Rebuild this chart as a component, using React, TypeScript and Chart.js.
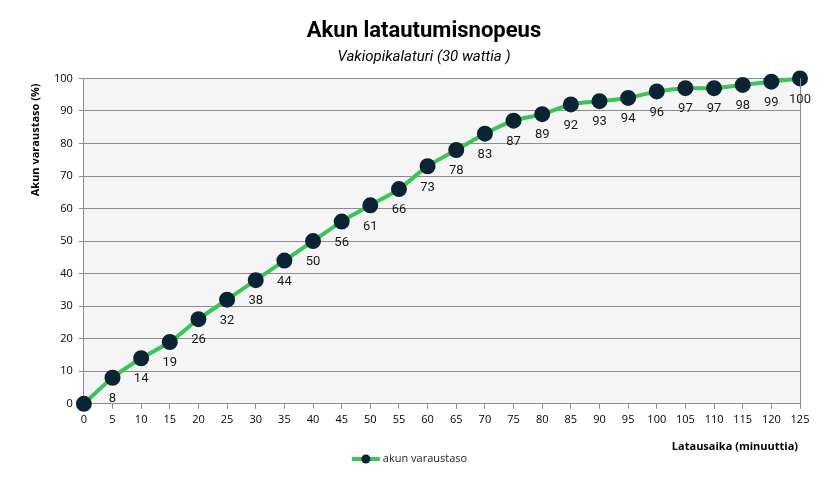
import React, { useEffect, useRef } from 'react';
import { Chart, registerables } from 'chart.js';
Chart.register(...registerables);

const minutes = [0, 5, 10, 15, 20, 25, 30, 35, 40, 45, 50, 55, 60, 65, 70, 75, 80, 85, 90, 95, 100, 105, 110, 115, 120, 125];
const charge = [0, 8, 14, 19, 26, 32, 38, 44, 50, 56, 61, 66, 73, 78, 83, 87, 89, 92, 93, 94, 96, 97, 97, 98, 99, 100];
const seriesLabel = 'akun varaustaso';
const titleText = 'Akun latautumisnopeus';
const subtitleText = 'Vakiopikalaturi (30 wattia )';
const xTitle = 'Latausaika (minuuttia)';
const yTitle = 'Akun varaustaso (%)';

const LINE = '#3cc45a';
const POINT = '#0b2433';
const GRID = '#8c8c8c';
const TICKFONT = "'Open Sans', 'DejaVu Sans', sans-serif";
const NARROW = "'Liberation Sans Narrow', 'Arial Narrow', 'Roboto', sans-serif";

const extras = {
  id: 'extras',
  beforeDraw(chart: any) {
    const { ctx, chartArea: a } = chart;
    ctx.save();
    ctx.fillStyle = '#f5f5f5';
    ctx.fillRect(a.left, a.top, a.right - a.left, a.bottom - a.top);
    ctx.restore();
  },
  afterDraw(chart: any) {
    const { ctx, chartArea: a } = chart;
    ctx.save();
    // right border
    ctx.strokeStyle = GRID;
    ctx.lineWidth = 1;
    ctx.beginPath();
    ctx.moveTo(Math.round(a.right) + 0.5, a.top);
    ctx.lineTo(Math.round(a.right) + 0.5, a.bottom);
    ctx.stroke();
    // data labels
    const meta = chart.getDatasetMeta(0);
    ctx.fillStyle = '#1a1a1a';
    ctx.font = `13px ${NARROW}`;
    ctx.textAlign = 'center';
    ctx.textBaseline = 'middle';
    meta.data.forEach((pt: any, i: number) => {
      if (charge[i] === 0) return;
      ctx.fillText(String(charge[i]), pt.x, pt.y + 21);
    });
    // axis titles
    ctx.fillStyle = '#000';
    ctx.font = `bold 11px ${TICKFONT}`;
    ctx.textAlign = 'right';
    ctx.fillText(xTitle, a.right - 2, a.bottom + 43);
    ctx.save();
    ctx.translate(36, a.top + 5);
    ctx.rotate(-Math.PI / 2);
    ctx.textAlign = 'right';
    ctx.fillText(yTitle, 0, 0);
    ctx.restore();
    // legend
    ctx.font = `11px ${TICKFONT}`;
    const tw = ctx.measureText(seriesLabel).width;
    const total = 28 + 3 + tw;
    const sx = chart.width / 2 - total / 2 - 6;
    const ly = chart.height - 31;
    ctx.strokeStyle = LINE;
    ctx.lineWidth = 4;
    ctx.beginPath();
    ctx.moveTo(sx, ly);
    ctx.lineTo(sx + 28, ly);
    ctx.stroke();
    ctx.fillStyle = POINT;
    ctx.beginPath();
    ctx.arc(sx + 14, ly, 4.5, 0, Math.PI * 2);
    ctx.fill();
    ctx.fillStyle = '#222';
    ctx.textAlign = 'left';
    ctx.fillText(seriesLabel, sx + 31, ly);
    ctx.restore();
  },
};

export default function App() {
  const ref = useRef<HTMLCanvasElement>(null);
  useEffect(() => {
    if (!ref.current) return;
    const chart = new Chart(ref.current, {
      type: 'line',
      data: {
        datasets: [
          {
            label: seriesLabel,
            data: minutes.map((m, i) => ({ x: m, y: charge[i] })),
            borderColor: LINE,
            borderWidth: 4,
            backgroundColor: POINT,
            pointBackgroundColor: POINT,
            pointBorderColor: POINT,
            pointRadius: 6,
            tension: 0.3,
            clip: false as any,
          },
        ],
      },
      options: {
        animation: false,
        responsive: false,
        layout: { padding: { left: 48, right: 31, top: 0, bottom: 60 } },
        plugins: {
          legend: { display: false },
          tooltip: { enabled: false },
          title: {
            display: true,
            text: titleText,
            color: '#000',
            font: { family: NARROW, size: 22, weight: 'bold' },
            padding: { top: 18, bottom: 4 },
          },
          subtitle: {
            display: true,
            text: subtitleText,
            color: '#000',
            font: { family: NARROW, size: 15, style: 'italic' },
            padding: { top: 0, bottom: 12 },
          },
        },
        scales: {
          x: {
            type: 'linear',
            min: 0,
            max: 125,
            ticks: { stepSize: 5, color: '#000', font: { family: TICKFONT, size: 11 }, padding: 4, maxRotation: 0, autoSkip: false },
            grid: { drawOnChartArea: false, drawTicks: true, tickLength: 5, color: GRID },
            border: { display: true, color: GRID },
          },
          y: {
            min: 0,
            max: 100,
            ticks: { stepSize: 10, color: '#000', font: { family: TICKFONT, size: 11 }, padding: 6 },
            grid: { color: GRID, tickLength: 5, drawTicks: true },
            border: { display: true, color: GRID },
          },
        },
      },
      plugins: [extras],
    });
    return () => chart.destroy();
  }, []);
  return (
    <div style={{ position: 'absolute', left: 0, top: 0, width: 831, height: 490, background: '#fff' }}>
      <canvas ref={ref} width={831} height={490} />
    </div>
  );
}
